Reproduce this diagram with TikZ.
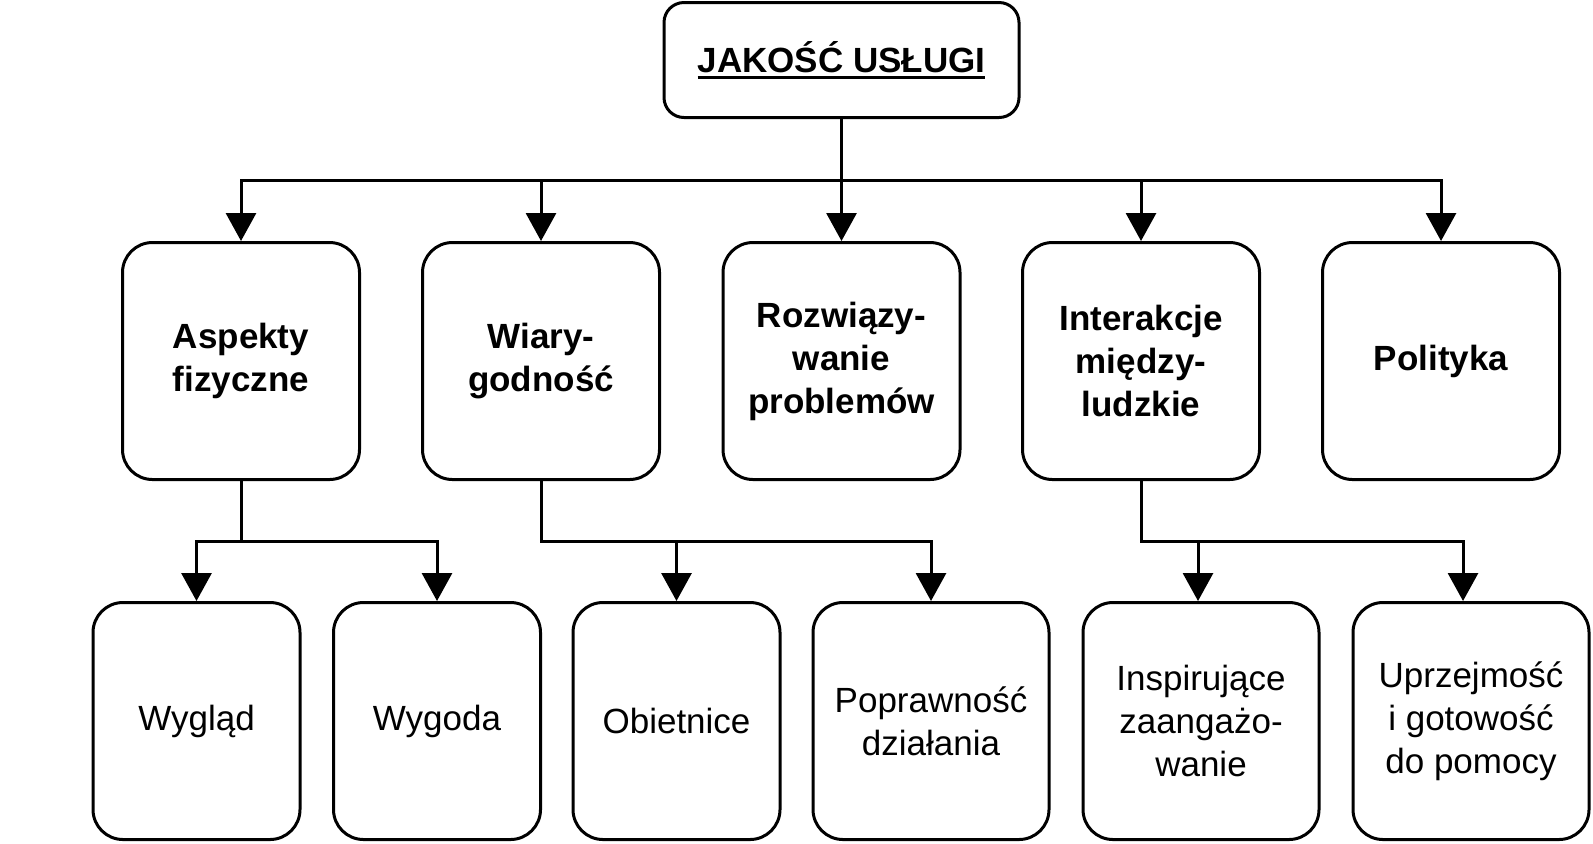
\documentclass[tikz,border=0pt]{standalone}
\usepackage{fontspec}
\setmainfont{Liberation Sans}
\usetikzlibrary{arrows.meta,
	calc,
	positioning}
\newcommand{\podkresl}[1]{\setbox0\hbox{#1}\rlap{\rule[-3.5pt]{\wd0}{1.4pt}}\box0}
\tikzstyle{root}=[draw, line width=1.5pt, rounded corners=10pt, minimum width=177.5pt,
		minimum height=57.5pt, font=\bfseries\fontsize{17.5}{21.5}\selectfont]
\tikzstyle{cat}=[draw, line width=1.5pt, rounded corners=15pt, minimum width=118.5pt,
		minimum height=118.5pt, align=center, inner sep=2pt,
		font=\bfseries\fontsize{17.5}{21.5}\selectfont]
\tikzstyle{sub}=[cat, minimum width=103.5pt, font=\fontsize{17.5}{21.5}\selectfont]
\tikzstyle{subw}=[sub, minimum width=118pt]
\tikzset{link/.style={line width=1.5pt, -{Triangle[length=14pt, width=15pt]}}}

\begin{document}
\begin{tikzpicture}[x=0.5pt, y=-0.5pt]
        \useasboundingbox (0,0) rectangle (1593,843);
        \node[root] (top) at (841.5,60) {\podkresl{JAKOŚĆ USŁUGI}};
        % kategorie
        \node[cat] (aspekty) at (241,361) {Aspekty\\fizyczne};
        \node[cat] (wiary) at (541,361) {Wiary-\\godność};
        \node[cat] (rozw) at (841.5,361) {Rozwiązy-\\wanie\\problemów};
        \node[cat] (interakcje) at (1141,361) {Interakcje\\między-\\ludzkie};
        \node[cat] (polityka) at (1441,361) {Polityka};
        % podkategorie
        \node[sub] (wyglad) at (196.5,721) {Wygląd};
        \node[sub] (wygoda) at (437,721) {Wygoda};
        \node[sub] (obietnice) at (676.5,721) {Obietnice};
        \node[subw] (poprawnosc) at (931,721) {Poprawność\\działania};
        \node[subw] (inspir) at (1201,721) {Inspirujące\\zaangażo-\\wanie};
        \node[subw] (uprzejm) at (1471,721) {Uprzejmość\\i gotowość\\do pomocy};

        \coordinate (bus) at ($(top.south)!0.5!(top.south |- rozw.north)$);
        \draw[link] (top.south) -- (rozw.north);
        \foreach \n in {aspekty, wiary, interakcje, polityka}
            \draw[link] (bus) -| (\n.north);

        \coordinate (fa) at ($(aspekty.south)!0.5!(aspekty.south |- wyglad.north)$);
        \coordinate (fw) at ($(wiary.south)!0.5!(wiary.south |- obietnice.north)$);
        \coordinate (fi) at ($(interakcje.south)!0.5!(interakcje.south |- inspir.north)$);
        \draw[link] (aspekty.south) -- (fa) -| (wyglad.north);
        \draw[link] (aspekty.south) -- (fa) -| (wygoda.north);
        \draw[link] (wiary.south) -- (fw) -| (obietnice.north);
        \draw[link] (wiary.south) -- (fw) -| (poprawnosc.north);
        \draw[link] (interakcje.south) -- (fi) -| ([xshift=-1.5pt]inspir.north);
        \draw[link] (interakcje.south) -- (fi) -| ([xshift=-4pt]uprzejm.north);
    \end{tikzpicture}
\end{document}
